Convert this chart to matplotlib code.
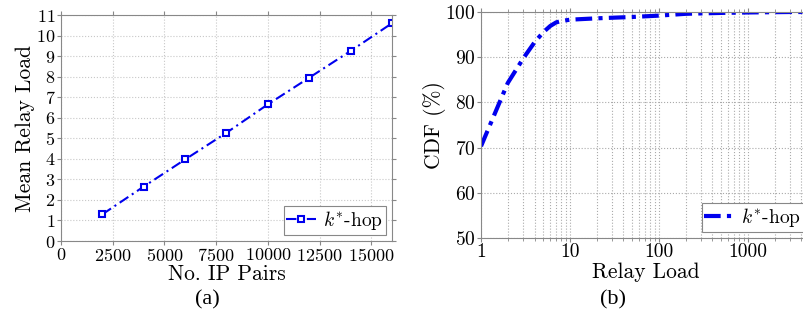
import numpy as np
import matplotlib.pyplot as plt

plt.rcParams['font.family'] = 'serif'
plt.rcParams['font.serif'] = ['cmr10', 'DejaVu Serif']
plt.rcParams['mathtext.fontset'] = 'cm'
plt.rcParams['axes.formatter.use_mathtext'] = True

# (a) mean relay load vs number of IP pairs
pairs = [2000, 4000, 6000, 8000, 10000, 12000, 14000, 16000]
mean_load = [1.3, 2.65, 3.97, 5.27, 6.65, 7.95, 9.25, 10.6]

# (b) CDF of relay load
relay_load = [1, 1.5, 2, 3, 4, 5, 6, 7, 8, 10, 20, 50, 100, 200, 500, 1000, 3000, 5000]
cdf = [70.3, 78.5, 84.3, 89.8, 93.3, 95.5, 96.9, 97.7, 98.0, 98.3, 98.6, 98.9, 99.2, 99.6, 99.8, 99.9, 100, 100]

spine_gray = '#888888'
blue = '#0000ee'

fig = plt.figure(figsize=(8.04, 3.26), dpi=100)
W, H = 804, 326

def px_axes(x0, y0, x1, y1):
    return fig.add_axes([x0 / W, 1 - y1 / H, (x1 - x0) / W, (y1 - y0) / H])

def style(ax, size):
    for s in ax.spines.values():
        s.set_color(spine_gray)
    ax.tick_params(which='both', direction='out', color=spine_gray,
                   top=True, right=True, labelsize=size, pad=1, length=3)
    ax.tick_params(which='minor', length=2)

ax1 = px_axes(61, 15, 392, 241)
ax1.plot(pairs, mean_load, color=blue, linestyle=(0, (5, 2, 1, 2)), linewidth=1.5,
         marker='s', markersize=4.5, markerfacecolor='white',
         markeredgecolor=blue, markeredgewidth=1.5, label='$k^{*}$-hop')
ax1.set_xlim(0, 16000)
ax1.set_ylim(0, 11)
ax1.set_xticks(np.arange(0, 16001, 2500))
ax1.set_yticks(np.arange(0, 12, 1))
ax1.grid(True, linestyle=':', color='#c8c8c8', linewidth=0.8)
ax1.set_xlabel('No. IP Pairs', fontsize=15.5, labelpad=1)
ax1.set_ylabel('Mean Relay Load', fontsize=15.5, labelpad=1)
leg = ax1.legend(loc='lower right', fontsize=14, fancybox=False,
                 edgecolor=spine_gray, framealpha=1, borderpad=0.15,
                 handlelength=1.5, handletextpad=0.4, borderaxespad=0.3)
leg.get_frame().set_linewidth(0.8)
style(ax1, 13)

ax2 = px_axes(481, 12, 810, 238)
ax2.semilogx(relay_load, cdf, color=blue, linestyle=(0, (4, 1.5, 1, 1.5)), linewidth=3,
             label='$k^{*}$-hop')
ax2.set_xlim(1, 5000)
ax2.set_ylim(50, 100)
ax2.set_xticks([1, 10, 100, 1000])
ax2.set_xticklabels(['1', '10', '100', '1000'])
ax2.set_yticks(np.arange(50, 101, 10))
ax2.grid(True, which='both', axis='x', linestyle=':', color='#aaaaaa', linewidth=0.8)
ax2.grid(True, which='major', axis='y', linestyle=':', color='#aaaaaa', linewidth=0.8)
ax2.set_xlabel('Relay Load', fontsize=15.5, labelpad=1)
ax2.set_ylabel('CDF (%)', fontsize=15.5, labelpad=-1)
leg2 = ax2.legend(loc='lower right', fontsize=14, fancybox=False,
                  edgecolor=spine_gray, framealpha=1, borderpad=0.15,
                  handlelength=1.5, handletextpad=0.4, borderaxespad=0.3)
leg2.get_frame().set_linewidth(0.8)
style(ax2, 14)

fig.text(207 / W, 1 - 300 / H, '(a)', fontsize=16, family='Liberation Serif',
         ha='center', va='center')
fig.text(613 / W, 1 - 300 / H, '(b)', fontsize=16, family='Liberation Serif',
         ha='center', va='center')

fig.savefig('out.png', dpi=100)
